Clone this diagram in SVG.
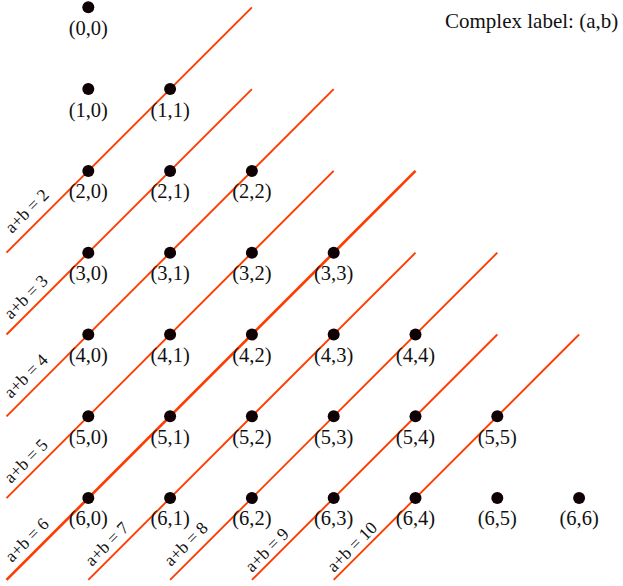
<svg xmlns="http://www.w3.org/2000/svg" width="623" height="586" viewBox="0 0 623 586">
  <style>
    .diag { stroke: #ff3c00; stroke-width: 1.9; stroke-linecap: butt; fill: none; }
    .diag.bold { stroke-width: 2.7; }
    .dot { fill: #0f0004; }
    .lbl { font-family: "Liberation Serif", "DejaVu Serif", serif; font-size: 20.5px; fill: #111; text-anchor: middle; }
    .sum { font-family: "Liberation Serif", "DejaVu Serif", serif; font-size: 17.5px; fill: #111; }
    .title { font-family: "Liberation Serif", "DejaVu Serif", serif; font-size: 21px; fill: #111; }
  </style>
  <rect width="623" height="586" fill="#ffffff"/>

  <!-- diagonals a+b = k, grid step 81.8 -->
  <g id="connectors">
    <line class="diag" x1="251.9" y1="7.3" x2="6.5" y2="252.7"/>
    <line class="diag" x1="251.9" y1="89.1" x2="6.5" y2="334.5"/>
    <line class="diag" x1="333.7" y1="89.1" x2="6.5" y2="416.3"/>
    <line class="diag" x1="333.7" y1="170.9" x2="6.5" y2="498.1"/>
    <line class="diag bold" x1="415.5" y1="170.9" x2="6.5" y2="579.9"/>
    <line class="diag" x1="415.5" y1="252.7" x2="88.3" y2="579.9"/>
    <line class="diag" x1="497.3" y1="252.7" x2="170.1" y2="579.9"/>
    <line class="diag" x1="497.3" y1="334.5" x2="251.9" y2="579.9"/>
    <line class="diag" x1="579.1" y1="334.5" x2="333.7" y2="579.9"/>
  </g>

  <!-- labels of the diagonals -->
  <g id="sum-labels">
    <text class="sum" transform="translate(12,234) rotate(-45)">a+b = 2</text>
    <text class="sum" transform="translate(11,320) rotate(-45)">a+b = 3</text>
    <text class="sum" transform="translate(11,399) rotate(-45)">a+b = 4</text>
    <text class="sum" transform="translate(11,484) rotate(-45)">a+b = 5</text>
    <text class="sum" transform="translate(12,563) rotate(-45)">a+b = 6</text>
    <text class="sum" transform="translate(92,567) rotate(-45)">a+b = 7</text>
    <text class="sum" transform="translate(171,567) rotate(-45)">a+b = 8</text>
    <text class="sum" transform="translate(252,573) rotate(-45)">a+b = 9</text>
    <text class="sum" transform="translate(334,573) rotate(-45)">a+b = 10</text>
  </g>

  <!-- lattice points (a,b), b <= a -->
  <g id="n00"><circle class="dot" cx="88.3" cy="7.3" r="6"/><text class="lbl" x="88.3" y="35">(0,0)</text></g>

  <g id="n10"><circle class="dot" cx="88.3" cy="89.1" r="6"/><text class="lbl" x="88.3" y="116.5">(1,0)</text></g>
  <g id="n11"><circle class="dot" cx="170.1" cy="89.1" r="6"/><text class="lbl" x="170.1" y="116.5">(1,1)</text></g>

  <g id="n20"><circle class="dot" cx="88.3" cy="170.9" r="6"/><text class="lbl" x="88.3" y="197.5">(2,0)</text></g>
  <g id="n21"><circle class="dot" cx="170.1" cy="170.9" r="6"/><text class="lbl" x="170.1" y="197.5">(2,1)</text></g>
  <g id="n22"><circle class="dot" cx="251.9" cy="170.9" r="6"/><text class="lbl" x="251.9" y="197.5">(2,2)</text></g>

  <g id="n30"><circle class="dot" cx="88.3" cy="252.7" r="6"/><text class="lbl" x="88.3" y="279.5">(3,0)</text></g>
  <g id="n31"><circle class="dot" cx="170.1" cy="252.7" r="6"/><text class="lbl" x="170.1" y="279.5">(3,1)</text></g>
  <g id="n32"><circle class="dot" cx="251.9" cy="252.7" r="6"/><text class="lbl" x="251.9" y="279.5">(3,2)</text></g>
  <g id="n33"><circle class="dot" cx="333.7" cy="252.7" r="6"/><text class="lbl" x="333.7" y="279.5">(3,3)</text></g>

  <g id="n40"><circle class="dot" cx="88.3" cy="334.5" r="6"/><text class="lbl" x="88.3" y="361.5">(4,0)</text></g>
  <g id="n41"><circle class="dot" cx="170.1" cy="334.5" r="6"/><text class="lbl" x="170.1" y="361.5">(4,1)</text></g>
  <g id="n42"><circle class="dot" cx="251.9" cy="334.5" r="6"/><text class="lbl" x="251.9" y="361.5">(4,2)</text></g>
  <g id="n43"><circle class="dot" cx="333.7" cy="334.5" r="6"/><text class="lbl" x="333.7" y="361.5">(4,3)</text></g>
  <g id="n44"><circle class="dot" cx="415.5" cy="334.5" r="6"/><text class="lbl" x="415.5" y="361.5">(4,4)</text></g>

  <g id="n50"><circle class="dot" cx="88.3" cy="416.3" r="6"/><text class="lbl" x="88.3" y="443.5">(5,0)</text></g>
  <g id="n51"><circle class="dot" cx="170.1" cy="416.3" r="6"/><text class="lbl" x="170.1" y="443.5">(5,1)</text></g>
  <g id="n52"><circle class="dot" cx="251.9" cy="416.3" r="6"/><text class="lbl" x="251.9" y="443.5">(5,2)</text></g>
  <g id="n53"><circle class="dot" cx="333.7" cy="416.3" r="6"/><text class="lbl" x="333.7" y="443.5">(5,3)</text></g>
  <g id="n54"><circle class="dot" cx="415.5" cy="416.3" r="6"/><text class="lbl" x="415.5" y="443.5">(5,4)</text></g>
  <g id="n55"><circle class="dot" cx="497.3" cy="416.3" r="6"/><text class="lbl" x="497.3" y="443.5">(5,5)</text></g>

  <g id="n60"><circle class="dot" cx="88.3" cy="498.1" r="6"/><text class="lbl" x="88.3" y="525">(6,0)</text></g>
  <g id="n61"><circle class="dot" cx="170.1" cy="498.1" r="6"/><text class="lbl" x="170.1" y="525">(6,1)</text></g>
  <g id="n62"><circle class="dot" cx="251.9" cy="498.1" r="6"/><text class="lbl" x="251.9" y="525">(6,2)</text></g>
  <g id="n63"><circle class="dot" cx="333.7" cy="498.1" r="6"/><text class="lbl" x="333.7" y="525">(6,3)</text></g>
  <g id="n64"><circle class="dot" cx="415.5" cy="498.1" r="6"/><text class="lbl" x="415.5" y="525">(6,4)</text></g>
  <g id="n65"><circle class="dot" cx="497.3" cy="498.1" r="6"/><text class="lbl" x="497.3" y="525">(6,5)</text></g>
  <g id="n66"><circle class="dot" cx="579.1" cy="498.1" r="6"/><text class="lbl" x="579.1" y="525">(6,6)</text></g>

  <text id="legend" class="title" x="445" y="28">Complex label: (a,b)</text>
</svg>
